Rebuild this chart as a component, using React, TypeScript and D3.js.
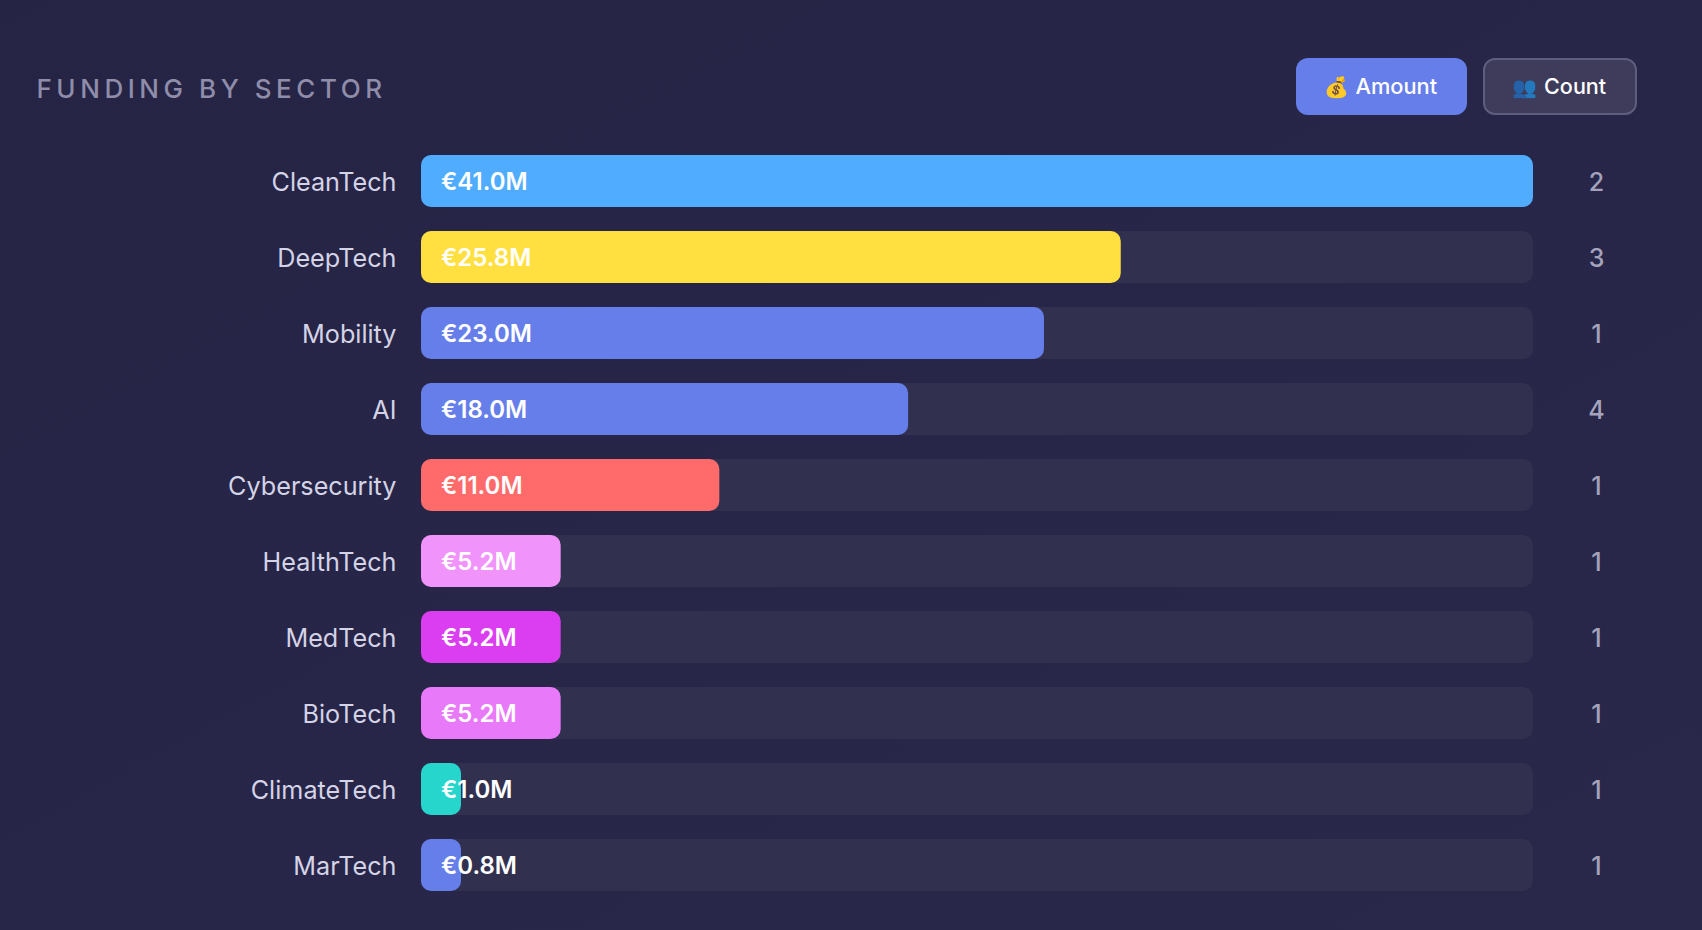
import React from 'react';
import * as d3 from 'd3';

const sectors = ['CleanTech', 'DeepTech', 'Mobility', 'AI', 'Cybersecurity', 'HealthTech', 'MedTech', 'BioTech', 'ClimateTech', 'MarTech'];
const amounts = [41.0, 25.8, 22.97, 17.96, 11.0, 5.15, 5.15, 5.15, 1.0, 0.8];
const counts = [2, 3, 1, 4, 1, 1, 1, 1, 1, 1];
const colors = ['#4facfe', '#ffe040', '#667eea', '#667eea', '#ff6b6b', '#f093fb', '#db3df0', '#e879f9', '#26d6cc', '#667eea'];

const font = 'Inter, sans-serif';
const width = 1702, height = 930;
const barLeft = 421, barRight = 1533;
const minBar = 40;

const x = d3.scaleLinear().domain([0, 41]).range([0, barRight - barLeft]);
const y = d3.scaleBand<string>()
  .domain(sectors)
  .range([155, 891])
  .paddingInner(24 / 76)
  .paddingOuter(0);

export default function App() {
  return (
    <svg width={width} height={height} style={{ position: 'absolute', left: 0, top: 0 }} fontFamily={font}>
      <defs>
        <linearGradient id="bg" x1="0" y1="0" x2="1" y2="1">
          <stop offset="0" stopColor="#252445" />
          <stop offset="1" stopColor="#29284b" />
        </linearGradient>
      </defs>
      <rect width={width} height={height} fill="url(#bg)" />

      <text x={36.5} y={98} fontSize={26} fontWeight={500} letterSpacing={4.55} fill="#8f8da9">FUNDING BY SECTOR</text>

      <rect x={1296} y={58} width={171} height={57} rx={12} fill="#667eea" />
      <text x={1324} y={93.5} fontSize={20} fill="#fff">💰</text>
      <text x={1355.5} y={93.5} fontSize={21.8} fontWeight={500} fill="#fff">Amount</text>

      <rect x={1484} y={59} width={152} height={55} rx={11} fill="#3e3c5a" stroke="#5f5d7d" strokeWidth={2} />
      <text x={1512} y={93.5} fontSize={20} fill="#fff" opacity={0.65}>👥</text>
      <text x={1544} y={93.5} fontSize={21.6} fontWeight={500} fill="#fff">Count</text>

      {sectors.map((s, i) => {
        const top = y(s)!;
        const mid = top + y.bandwidth() / 2;
        return (
          <g key={s}>
            <text x={396.5} y={mid + 1} dy="0.35em" textAnchor="end" fontSize={25.2} fill="#d5d3e6">{s}</text>
            <rect x={barLeft} y={top} width={barRight - barLeft} height={y.bandwidth()} rx={10} fill="#32304f" />
            <rect x={barLeft} y={top} width={Math.max(x(amounts[i]), minBar)} height={y.bandwidth()} rx={10} fill={colors[i]} />
            <text x={barLeft + 20} y={mid + 1} dy="0.35em" fontSize={24} fontWeight={600} fill="#fff">{`€${amounts[i].toFixed(1)}M`}</text>
            <text x={1596.5} y={mid + 1} dy="0.35em" textAnchor="middle" fontSize={25} fontWeight={500} fill="#a5a3bc">{counts[i]}</text>
          </g>
        );
      })}
    </svg>
  );
}
